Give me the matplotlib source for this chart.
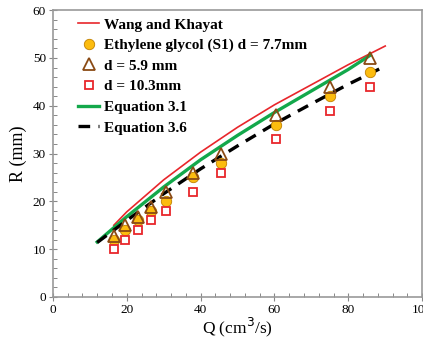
import numpy as np
import matplotlib
matplotlib.use("Agg")
import matplotlib.pyplot as plt
from matplotlib.ticker import MultipleLocator

plt.rcParams["font.family"] = ["Liberation Serif", "DejaVu Serif"]

# experimental data
q_exp = [16.5, 19.5, 23, 26.5, 30.5, 38, 45.5, 60.5, 75, 86]
r_77 = [12, 14, 16, 18, 20, 25, 28, 36, 42, 47]
r_59 = [12.8, 15, 16.8, 18.8, 22, 26, 30, 38, 44, 50]
r_103 = [10, 12, 14, 16, 18, 22, 26, 33, 39, 44]

# model curves
q_wk = [16.5, 20, 30, 40, 50, 60, 70, 80, 90]
r_wk = [15, 17.8, 24.5, 30.3, 35.5, 40.2, 44.4, 48.6, 52.5]
q_e31 = [12, 20, 30, 40, 50, 60, 70, 80, 86]
r_e31 = [11.5, 16.8, 23, 28.7, 33.8, 38.6, 43.1, 47.6, 50.6]
q_e36 = [12, 20, 30, 40, 50, 60, 70, 80, 90]
r_e36 = [11.4, 16, 21.6, 26.8, 31.6, 36.2, 40.4, 44.5, 48.3]

fig = plt.figure(figsize=(4.23, 3.39), dpi=100)
ax = fig.add_axes([0.125, 0.124, 0.873, 0.846])

ax.plot(q_wk, r_wk, color="#e8262b", lw=1.2, label="Wang and Khayat", zorder=3)
ax.plot(q_exp, r_77, "o", ms=7.5, mfc="#fcbc0f", mec="#c08000", mew=0.6,
        label="Ethylene glycol (S1) d = 7.7mm", zorder=4)
ax.plot(q_exp, r_59, "^", ms=8, mfc="none", mec="#8a4a14", mew=1.3,
        label="d = 5.9 mm", zorder=5)
ax.plot(q_exp, r_103, "s", ms=5.5, mfc="white", mec="#e8262b", mew=1.3,
        label="d = 10.3mm", zorder=4)
ax.plot(q_e31, r_e31, color="#13a84b", lw=2.4, label="Equation 3.1", zorder=3)
ax.plot(q_e36, r_e36, color="black", lw=2.4, ls=(0, (3.5, 2.5)),
        label="Equation 3.6", zorder=3)

ax.set_xlim(0, 100)
ax.set_ylim(0, 60)
ax.xaxis.set_major_locator(MultipleLocator(20))
ax.xaxis.set_minor_locator(MultipleLocator(4))
ax.yaxis.set_major_locator(MultipleLocator(10))
ax.yaxis.set_minor_locator(MultipleLocator(2))
ax.tick_params(which="major", direction="inout", length=6, width=0.8,
               color="#888888", labelsize=9.5, pad=2)
ax.tick_params(which="minor", direction="in", length=3, width=0.7, color="#888888")
for s in ax.spines.values():
    s.set_color("#999999")
    s.set_linewidth(1.2)

ax.set_xlabel("Q (cm$^3$/s)", fontsize=12.5, labelpad=0)
ax.set_ylabel("R (mm)", fontsize=13, labelpad=4)

leg = ax.legend(loc="upper left", frameon=False, prop={"weight": "bold", "size": 11},
                handlelength=1.35, handletextpad=0.35, borderaxespad=0.1,
                labelspacing=0.45, bbox_to_anchor=(0.048, 1.0))

fig.savefig("out.png", dpi=100)
